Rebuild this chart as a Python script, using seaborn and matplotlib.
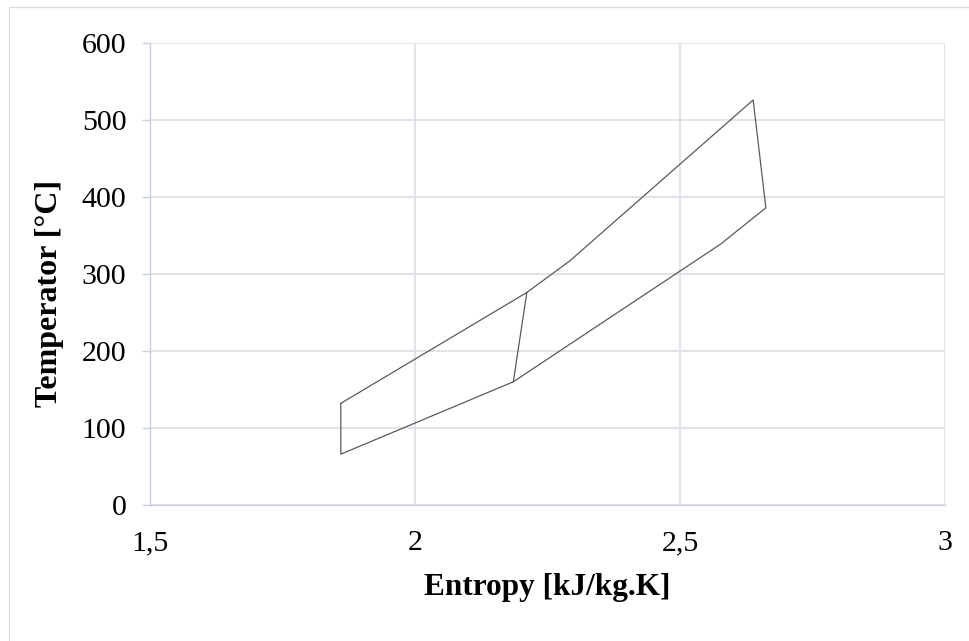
import matplotlib
matplotlib.use("Agg")
import matplotlib.pyplot as plt
import seaborn as sns
import pandas as pd
from matplotlib.ticker import FuncFormatter
from matplotlib.patches import Rectangle

# Data
cycle_s = [1.86, 2.211, 2.292, 2.638, 2.662, 2.577, 2.1855, 1.86, 1.86]
cycle_t = [132, 276, 317, 526, 386, 339, 160, 66, 132]
link_s = [2.211, 2.1855]
link_t = [276, 160]

x_ticks = [1.5, 2.0, 2.5, 3.0]
y_ticks = [0, 100, 200, 300, 400, 500, 600]

sns.set_theme(style="whitegrid")
plt.rcParams['font.family'] = ['Liberation Serif', 'DejaVu Serif']

fig = plt.figure(figsize=(9.69, 6.41), dpi=100)
ax = fig.add_axes([150/969, (641-505)/641, (945-150)/969, (505-43)/641])

df_cycle = pd.DataFrame({"s": cycle_s, "t": cycle_t, "pt": range(len(cycle_s))})
df_link = pd.DataFrame({"s": link_s, "t": link_t, "pt": range(len(link_s))})

line_kw = dict(color="#5a5a5a", linewidth=0.9, sort=False, estimator=None)
sns.lineplot(data=df_cycle, x="s", y="t", ax=ax, **line_kw)
sns.lineplot(data=df_link, x="s", y="t", ax=ax, **line_kw)

ax.set_xlim(1.5, 3.0)
ax.set_ylim(0, 600)
ax.set_xticks(x_ticks)
ax.set_yticks(y_ticks)
ax.xaxis.set_major_formatter(FuncFormatter(lambda v, p: (f"{v:g}").replace(".", ",")))

ax.grid(True, color="#dde1e8", linewidth=1.3)
ax.set_axisbelow(True)
for side in ["top", "right"]:
    ax.spines[side].set_visible(False)
for side in ["left", "bottom"]:
    ax.spines[side].set_visible(True)
    ax.spines[side].set_color("#c9d0dc")
    ax.spines[side].set_linewidth(1.0)

ax.tick_params(axis="y", which="major", left=True, length=6, width=1.0, color="#c9d0dc",
               labelsize=21.5, pad=11, labelcolor="black")
ax.tick_params(axis="x", which="major", bottom=False, labelsize=21.5, pad=12, labelcolor="black")

ax.set_xlabel("Entropy [kJ/kg.K]", fontsize=22.5, fontweight="bold", color="black", labelpad=12)
ax.set_ylabel("")
fig.text(50/969, (641-293)/641, "Temperator [°C]", rotation=90, ha="center", va="center",
         fontsize=23, fontweight="bold", color="black")

# outer chart frame
fig.patches.append(Rectangle((9/969, -0.01), 1.0, 1 - 7/641 + 0.01, transform=fig.transFigure,
                             fill=False, edgecolor="#d9dde5", linewidth=1.0))

fig.savefig("out.png", dpi=100, facecolor="white")
